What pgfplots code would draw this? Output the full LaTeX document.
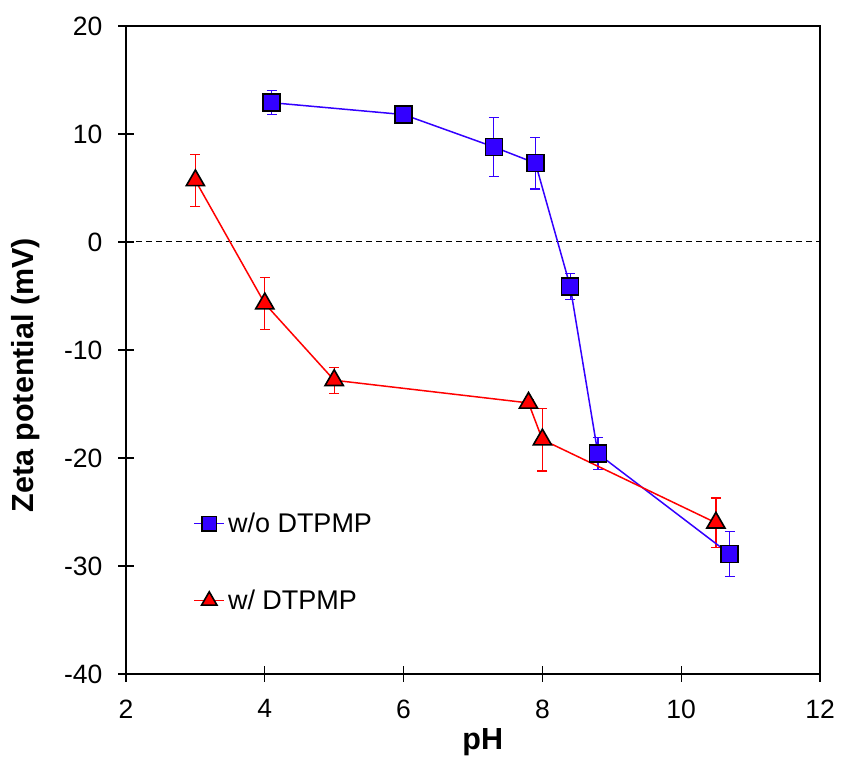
\documentclass[border=0pt]{standalone}
\usepackage{fontspec}
\setmainfont{Liberation Sans}
\usepackage{pgfplots}
\pgfplotsset{compat=1.18}
\definecolor{sqblue}{RGB}{51,0,255}
\definecolor{trired}{RGB}{255,0,0}
\pgfplotstableread{
x y e
4.1 12.9 1.1
6.0 11.8 0.4
7.3 8.8 2.7
7.9 7.3 2.4
8.4 -4.1 1.2
8.8 -19.6 1.5
10.7 -28.9 2.1
}\wodata
\pgfplotstableread{
x y e
3.0 5.7 2.4
4.0 -5.7 2.4
5.0 -12.8 1.2
7.8 -14.9 0.3
8.0 -18.3 2.9
10.5 -26.0 2.3
}\wdata
\begin{document}
\begin{tikzpicture}
\begin{axis}[
  at={(0,0)}, anchor=south west,
  scale only axis, width=694pt, height=648pt,
  xmin=2, xmax=12, ymin=-40, ymax=20,
  xtick={2,4,...,12}, ytick={-40,-30,...,20},
  tick align=center, major tick length=16pt,
  xtick pos=bottom, ytick pos=left,
  axis line style={line width=1.2pt},
  tick style={line width=1.2pt, black},
  /pgf/number format/assume math mode=true,
  ticklabel style={font=\fontsize{26.5}{31}\selectfont},
  yticklabel style={xshift=-12pt},
  xticklabel style={yshift=-14pt},
  xlabel={pH}, ylabel={Zeta potential (mV)},
  label style={font=\bfseries\fontsize{30.5}{35}\selectfont},
  xlabel style={at={(axis description cs:0.514,-0.1049)}, anchor=center},
  ylabel style={at={(axis description cs:-0.144,0.461)}, anchor=center},
  legend style={at={(axis cs:2.97,-24.9)}, anchor=north west, draw=none, fill=none,
    font=\fontsize{27}{31}\selectfont, row sep=52pt, inner sep=0pt,
    nodes={inner xsep=3pt}},
  legend cell align=left,
  legend image code/.code={\draw[mark repeat=2,mark phase=2,#1,/tikz/every mark/.append style={scale=0.85}] plot coordinates {(0pt,0pt)(15pt,0pt)(30pt,0pt)};},
  clip=false,
]
\addplot[black, dashed, line width=1pt, dash pattern=on 6pt off 4pt, forget plot] coordinates {(2,0) (12,0)};

% error bars (drawn beneath the markers)
\addplot[sqblue, only marks, mark=none, forget plot,
  error bars/.cd, y dir=both, y explicit,
  error bar style={line width=1.2pt, sqblue, solid},
  error mark options={rotate=90, mark size=5pt, line width=1.2pt, sqblue}]
  table[x=x, y=y, y error=e] {\wodata};
\addplot[trired, only marks, mark=none, forget plot,
  error bars/.cd, y dir=both, y explicit,
  error bar style={line width=1.2pt, trired, solid},
  error mark options={rotate=90, mark size=5pt, line width=1.2pt, trired}]
  table[x=x, y=y, y error=e] {\wdata};

\addplot[color=sqblue, line width=1.5pt, mark=square*, mark size=8.5pt,
  mark options={fill=sqblue, draw=black, line width=1.6pt, solid}]
  table[x=x, y=y] {\wodata};
\addlegendentry{w/o DTPMP}

\addplot[color=trired, line width=1.5pt, mark=triangle*, mark size=10.5pt,
  mark options={fill=trired, draw=black, line width=1.6pt, solid}]
  table[x=x, y=y] {\wdata};
\addlegendentry{w/ DTPMP}
\end{axis}
\pgfresetboundingbox
\path (-126pt,-85pt) rectangle (715pt,674pt);
\end{tikzpicture}
\end{document}
